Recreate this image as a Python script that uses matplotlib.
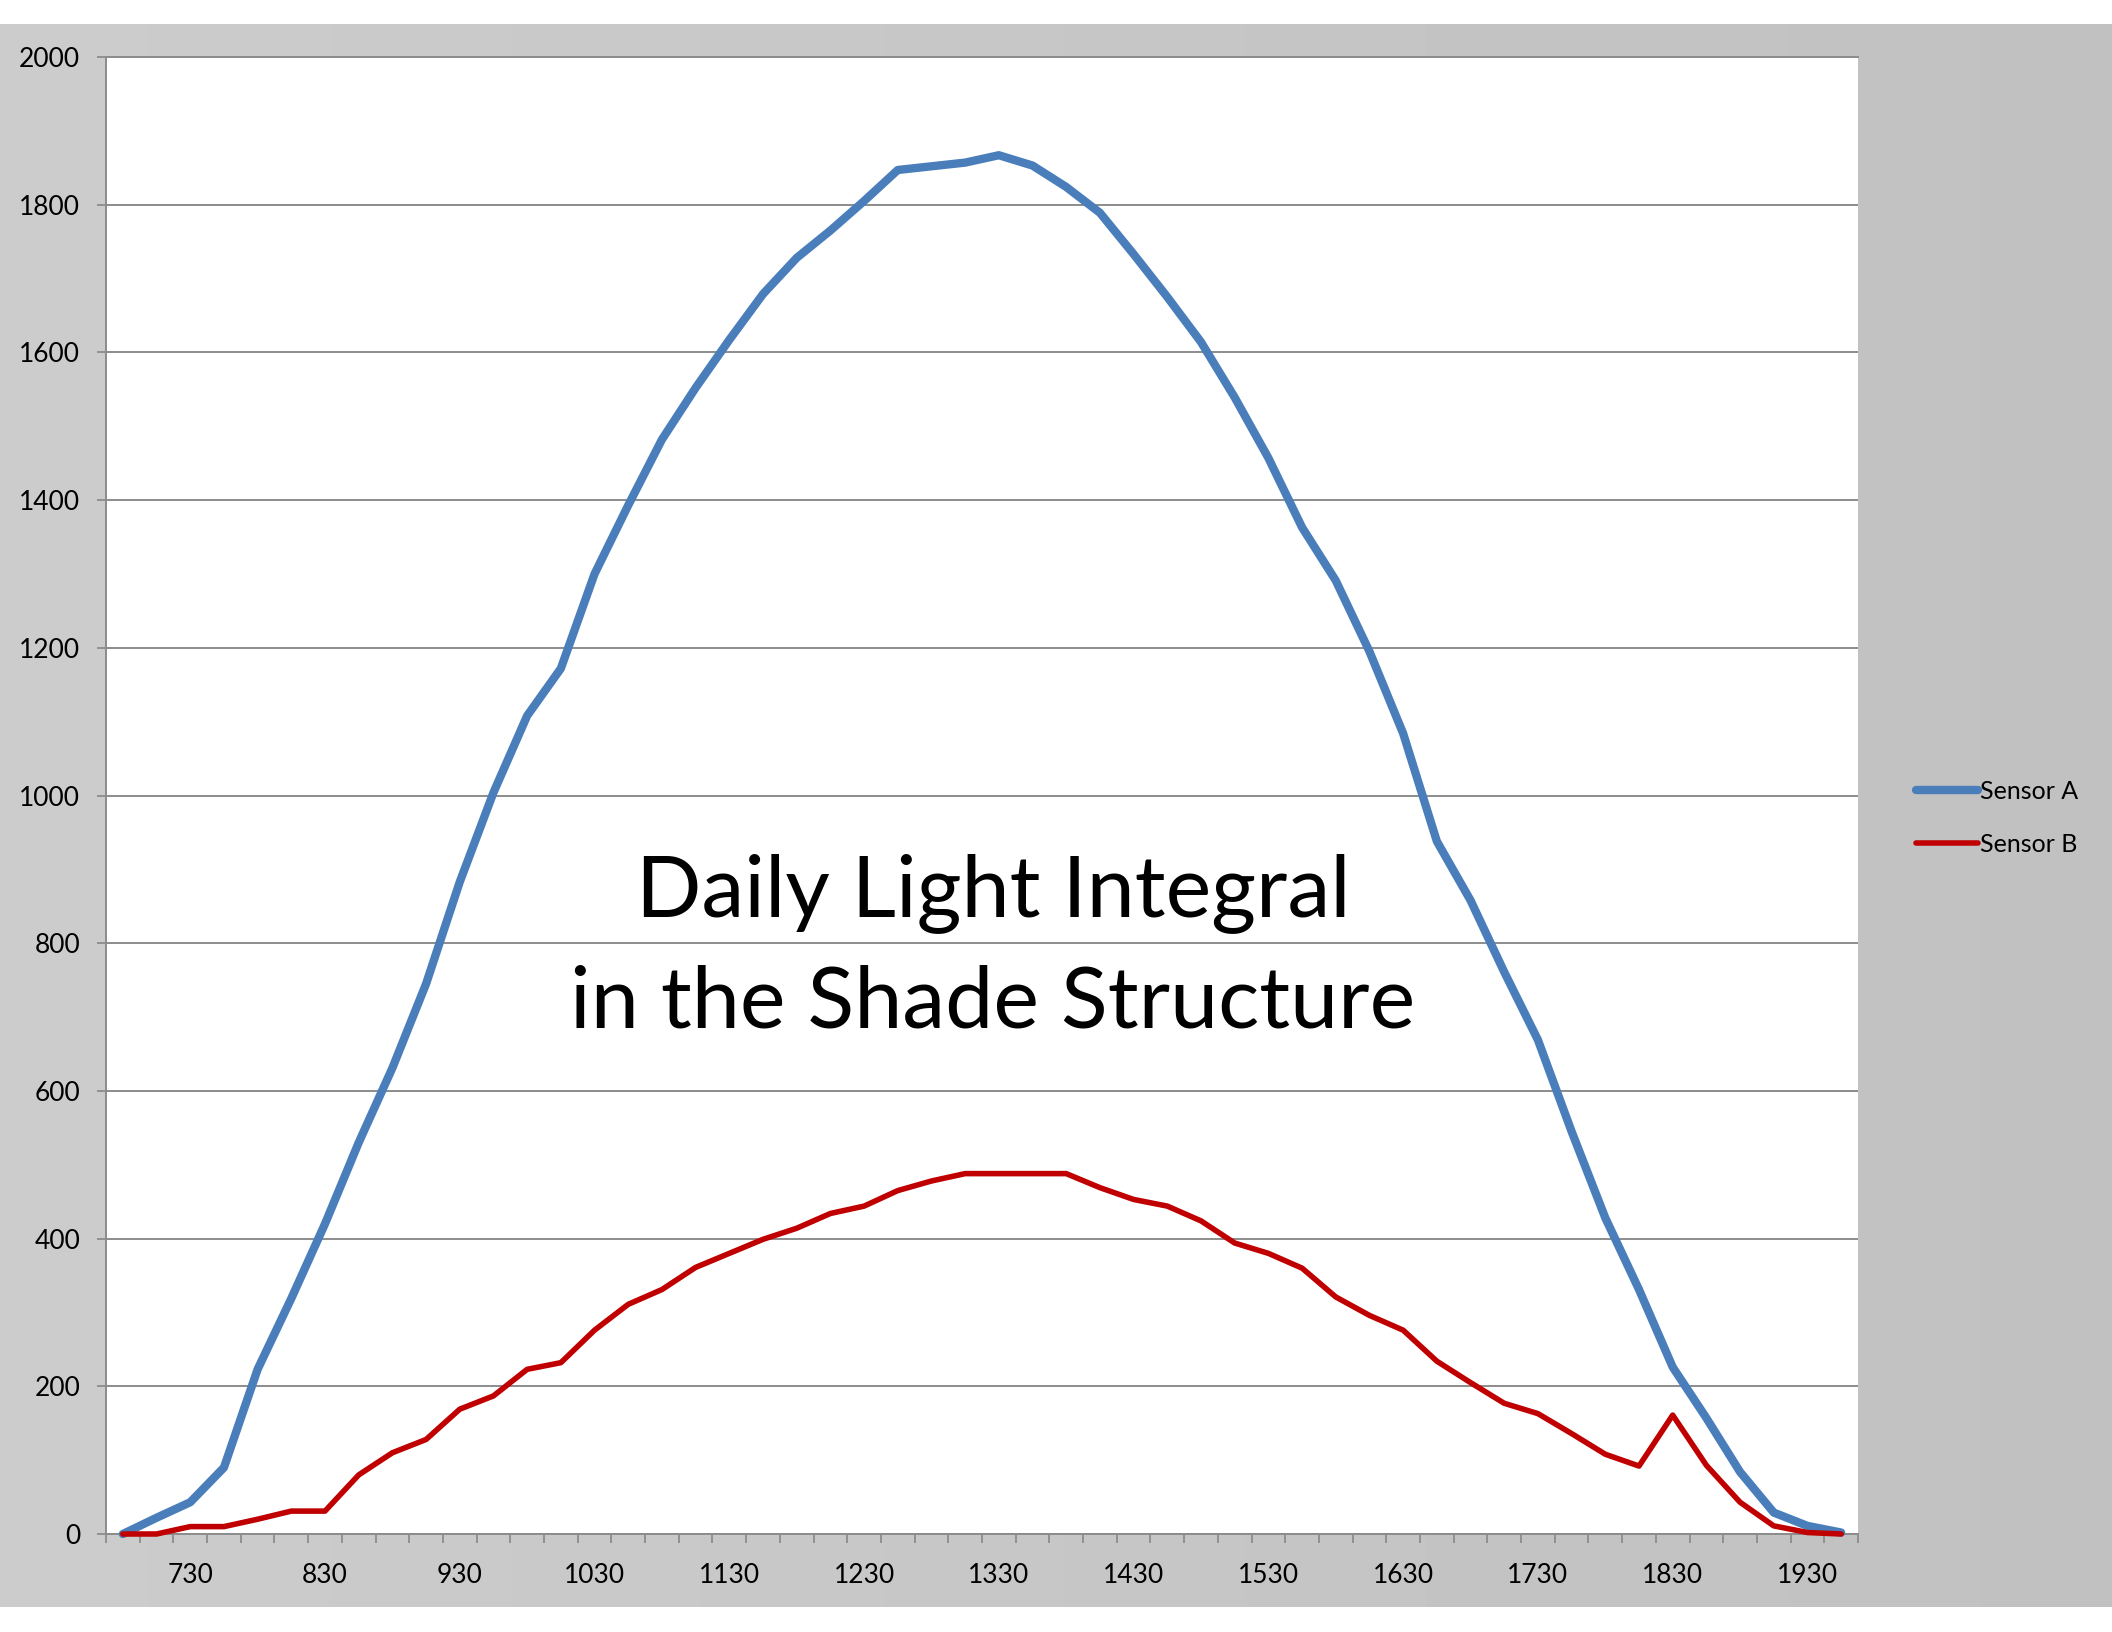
import matplotlib
matplotlib.use("Agg")
import matplotlib.pyplot as plt
import numpy as np

plt.rcParams["font.family"] = ["Lato", "DejaVu Sans"]

# 15-minute readings, 7:00 to 19:45
times = ["700", "715", "730", "745", "800", "815", "830", "845", "900", "915",
         "930", "945", "1000", "1015", "1030", "1045", "1100", "1115", "1130", "1145",
         "1200", "1215", "1230", "1245", "1300", "1315", "1330", "1345", "1400", "1415",
         "1430", "1445", "1500", "1515", "1530", "1545", "1600", "1615", "1630", "1645",
         "1700", "1715", "1730", "1745", "1800", "1815", "1830", "1845", "1900", "1915",
         "1930", "1945"]

sensor_a = [0, 22, 43, 90, 223, 319, 420, 530, 631, 745,
            883, 1004, 1108, 1172, 1300, 1393, 1482, 1552, 1617, 1679,
            1728, 1765, 1805, 1847, 1852, 1857, 1867, 1853, 1824, 1789,
            1733, 1675, 1614, 1539, 1457, 1363, 1291, 1195, 1084, 938,
            858, 761, 669, 545, 428, 331, 226, 157, 84, 29,
            11, 2]

sensor_b = [0, 0, 10, 10, 20, 31, 31, 80, 110, 128,
            169, 187, 223, 232, 276, 311, 331, 361, 380, 399,
            414, 434, 444, 465, 478, 488, 488, 488, 488, 469,
            453, 444, 424, 394, 380, 360, 321, 296, 276, 234,
            205, 177, 163, 136, 108, 92, 161, 93, 43, 11,
            2, 0]

shown_labels = ["730", "830", "930", "1030", "1130", "1230", "1330",
                "1430", "1530", "1630", "1730", "1830", "1930"]

W, H = 2112, 1632
fig = plt.figure(figsize=(W / 100, H / 100), dpi=100, facecolor="white")

# gray slide background band
bg = fig.add_axes([0, 25 / H, 1, (1607 - 24) / H], zorder=0)
grad = np.linspace(0.80, 0.755, 256)[None, :]
bg.imshow(grad, aspect="auto", cmap="gray", vmin=0, vmax=1, extent=[0, 1, 0, 1])
bg.axis("off")

ax = fig.add_axes([106 / W, (H - 1534) / H, 1752 / W, 1477 / H], zorder=1)
ax.set_facecolor("white")

x = np.arange(len(times))
ax.plot(x, sensor_a, color="#4a7ebb", lw=6.0, solid_joinstyle="round",
        solid_capstyle="round", label="Sensor A", zorder=3, clip_on=False)
ax.plot(x, sensor_b, color="#c00000", lw=4.0, solid_joinstyle="round",
        solid_capstyle="round", label="Sensor B", zorder=4, clip_on=False)

ax.set_xlim(-0.5, len(times) - 0.5)
ax.set_ylim(0, 2000)
ax.set_yticks(np.arange(0, 2001, 200))
ax.yaxis.grid(True, color="#8c8c8c", lw=1.4)
ax.set_axisbelow(True)

label_pos = [times.index(t) for t in shown_labels]
ax.set_xticks(label_pos)
ax.set_xticklabels(shown_labels)
ax.set_xticks(np.arange(-0.5, len(times), 1), minor=True)

ax.tick_params(axis="x", which="major", length=0, pad=21, labelsize=19)
ax.tick_params(axis="x", which="minor", length=6.5, width=1.3, color="#8c8c8c", direction="out")
ax.tick_params(axis="y", length=6.5, width=1.3, color="#8c8c8c", pad=12, labelsize=19)

for side in ["left", "bottom", "top"]:
    ax.spines[side].set_color("#8c8c8c")
    ax.spines[side].set_linewidth(1.4)
ax.spines["right"].set_visible(False)

fig.text(993 / W, 1 - 916 / H, "Daily Light Integral", ha="center",
         va="baseline", fontsize=62, zorder=5)
fig.text(993 / W, 1 - 1027 / H, "in the Shade Structure", ha="center",
         va="baseline", fontsize=62, zorder=5)

fig.legend(loc="center left", bbox_to_anchor=(1903 / W, 1 - 818 / H),
           frameon=False, fontsize=18, handlelength=2.5, handletextpad=0.1,
           labelspacing=1.2, borderpad=0)

fig.savefig("out.png", dpi=100, facecolor="white")
